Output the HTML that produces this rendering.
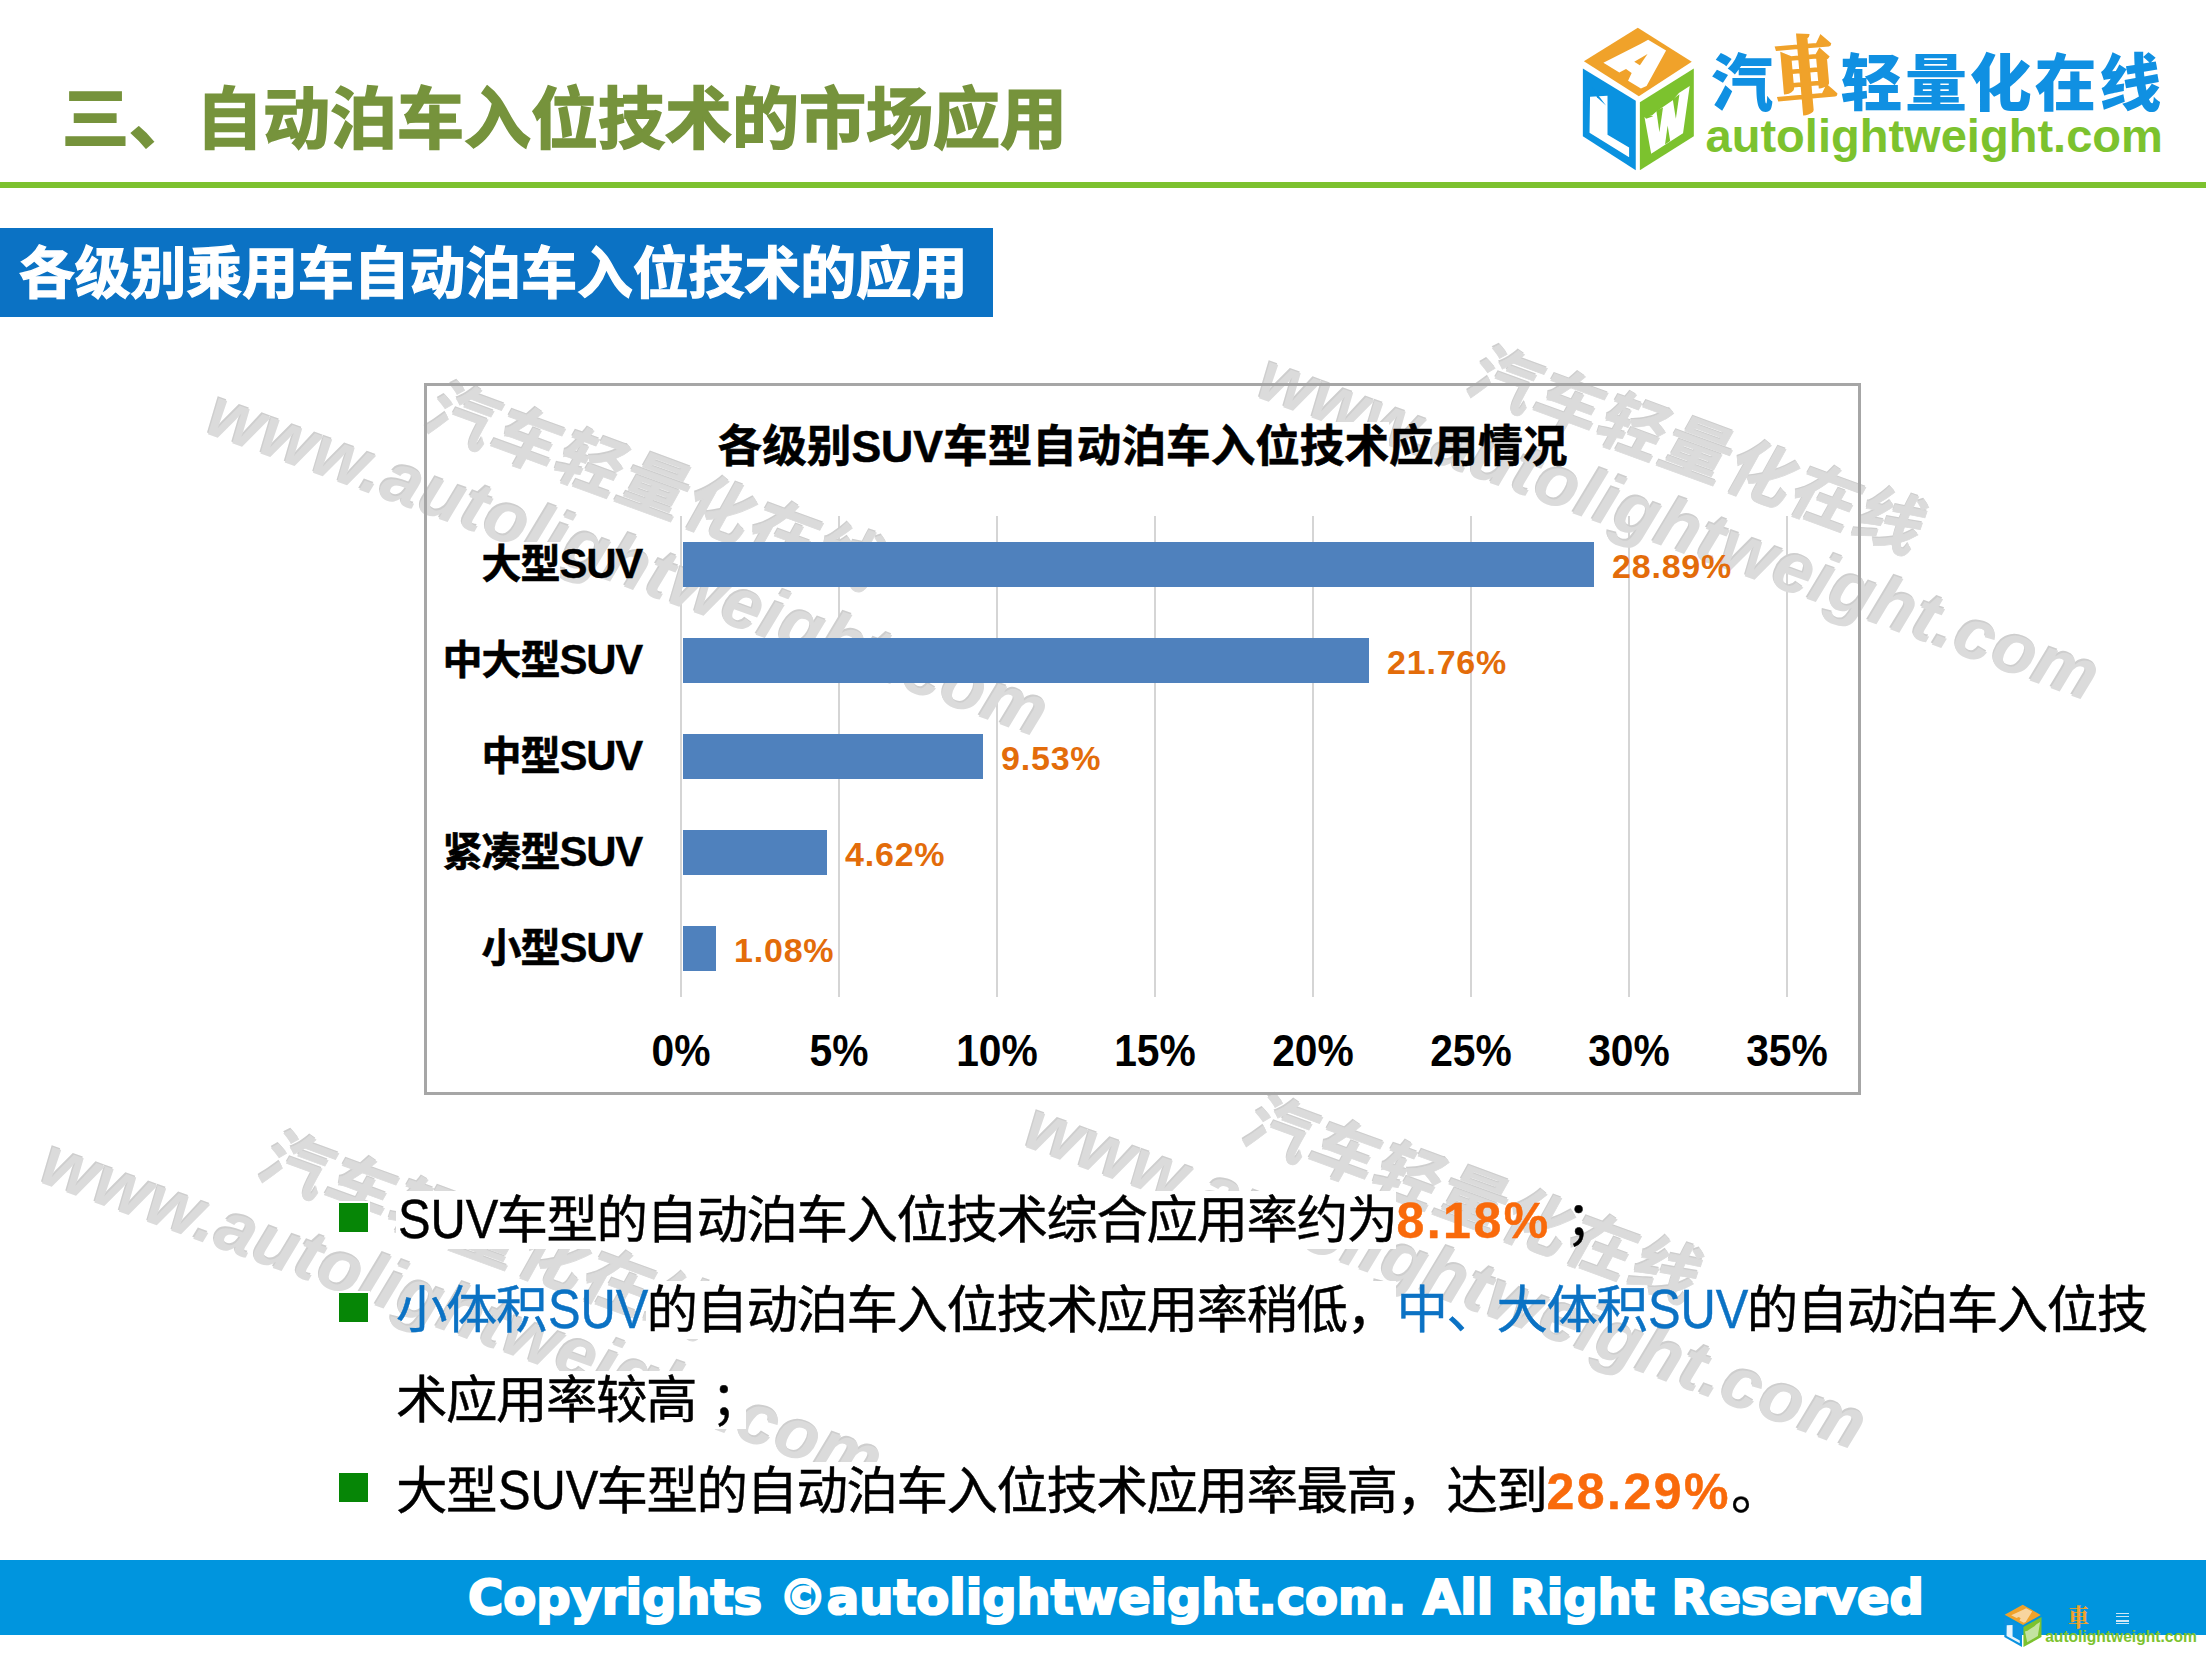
<!DOCTYPE html>
<html lang="zh-CN">
<head>
<meta charset="utf-8">
<title>三、自动泊车入位技术的市场应用</title>
<style>
html,body{margin:0;padding:0;background:#fff;}
body{width:2206px;height:1654px;position:relative;overflow:hidden;font-family:"Liberation Sans","Noto Sans CJK SC",sans-serif;}
.abs{position:absolute;white-space:nowrap;}
/* watermark */
.wm{position:absolute;width:0;height:0;transform:rotate(20.1deg);transform-origin:0 0;}
.wm span{position:absolute;white-space:nowrap;color:#dbdbdb;font-weight:bold;font-style:italic;text-shadow:-1.5px -1.5px 0 #cecece;line-height:1;}
.wm .en{left:0;top:0;font-size:71.4px;font-family:"Liberation Sans",sans-serif;letter-spacing:0.5px;}
.wm .cn{left:193px;top:-74.5px;font-size:66px;font-family:"Liberation Sans","Noto Sans CJK SC",sans-serif;font-weight:bold;letter-spacing:2.4px;font-style:normal;transform:skewX(-9deg);transform-origin:0 100%;-webkit-text-stroke:0.8px #dbdbdb;}
/* logo */
#lgcn{left:1711px;top:40px;font-size:62px;line-height:90px;font-weight:900;color:#1090e2;letter-spacing:2.7px;font-family:"Liberation Sans","Noto Sans CJK SC",sans-serif;}
#lgcn .che{color:#f0a22a;font-family:"Liberation Serif","Noto Serif CJK SC",serif;display:inline-block;transform:translateY(-4px) rotate(-5deg) scale(1.0,1.36);transform-origin:50% 62%;-webkit-text-stroke:1.6px #f0a22a;}
#lgen{left:1705.5px;top:106px;font-size:47.05px;line-height:60px;font-weight:bold;color:#7cc22e;font-family:"Liberation Sans",sans-serif;}
#smche{left:2068px;top:1603px;font-size:21px;line-height:30px;font-weight:900;color:#f0a22a;font-family:"Liberation Serif","Noto Serif CJK SC",serif;transform:scale(1,1.15);}
#smdash{left:2116px;top:1613px;width:12.5px;height:11px;background:linear-gradient(#cfe8f7 0 1.5px,transparent 1.5px 3px,#cfe8f7 3px 4.2px,transparent 4.2px 7.5px,#cfe8f7 7.5px 8.7px,transparent 8.7px 9.8px,#cfe8f7 9.8px 11px);}
#smen{left:2045.2px;top:1626.5px;font-size:15.6px;line-height:20px;font-weight:bold;color:#7cc22e;font-family:"Liberation Sans",sans-serif;}
/* header */
#title{-webkit-text-stroke:1.7px #76933c;left:62px;top:72px;font-size:67px;line-height:96px;font-weight:bold;color:#76933c;font-family:"Liberation Sans","Noto Sans CJK SC",sans-serif;}
#gline{position:absolute;left:0;top:182px;width:2206px;height:6px;background:#7cc12f;}
#banner{position:absolute;left:0;top:228px;width:993px;height:89px;background:#0b72c4;}
#banner div{-webkit-text-stroke:1.3px #fff;position:absolute;left:19px;top:2px;font-size:55.8px;line-height:88px;font-weight:bold;color:#fff;white-space:nowrap;}
/* chart */
#chart{position:absolute;left:424px;top:383px;width:1431px;height:706px;border:3px solid #a6a6a6;box-sizing:content-box;}
.grid{position:absolute;top:516px;width:2.2px;height:481px;background:#d5d5d5;}
.bar{position:absolute;left:683px;height:45px;background:#4f81bd;}
.cat{position:absolute;right:1564px;letter-spacing:-1px;white-space:nowrap;font-weight:bold;font-size:40px;line-height:50px;color:#000;}
.cat b{background:#fff;font-weight:bold;}
.cat,#ctitle{-webkit-text-stroke:0.6px #000;}
.cat u{text-decoration:none;font-size:42px;letter-spacing:-1.3px;-webkit-text-stroke:0.3px #000;}
.val{position:absolute;white-space:nowrap;font-weight:bold;font-size:34px;line-height:40px;color:#e36c0a;letter-spacing:0.8px;}
.ax{position:absolute;width:200px;text-align:center;white-space:nowrap;font-weight:bold;font-size:44.8px;line-height:46px;color:#000;transform:scaleX(0.91);}
.ax span{background:#fff;}
#ctitle{position:absolute;left:425px;width:1435px;top:420px;text-align:center;font-weight:bold;font-size:44.6px;line-height:54px;color:#000;white-space:nowrap;}
#ctitle span{background:#fff;}
/* bullets */
.sq{position:absolute;left:339px;width:29px;height:29px;background:#068606;box-shadow:0 0 0 2px #fff;}
.ln{position:absolute;-webkit-text-stroke:0.45px;left:396px;white-space:nowrap;font-size:51.5px;letter-spacing:-1.5px;line-height:60px;color:#000;}
.ln i{font-style:normal;letter-spacing:0;display:inline-block;font-size:55px;line-height:1;width:98.4px;margin-left:2px;transform:scaleX(0.888);transform-origin:0 50%;}
.ln .o{letter-spacing:2.5px;font-size:50px;}
.ln .k{background:#fff;}
.ln em{font-style:normal;position:relative;left:15px;}
.ln .o{color:#f96a0b;font-weight:bold;}
.ln .b{color:#0b72c4;}
/* footer */
#foot{position:absolute;left:0;top:1560px;width:2206px;height:75px;background:#0095de;}
#foot div{position:absolute;left:468px;top:0;color:#fff;font-weight:bold;font-size:48px;line-height:75px;white-space:nowrap;font-family:"DejaVu Sans","Liberation Sans",sans-serif;-webkit-text-stroke:2.2px #fff;}
</style>
</head>
<body>

<!-- gridlines -->
<div class="grid" style="left:680.2px"></div>
<div class="grid" style="left:838.1px"></div>
<div class="grid" style="left:996.1px"></div>
<div class="grid" style="left:1154.0px"></div>
<div class="grid" style="left:1311.9px"></div>
<div class="grid" style="left:1469.8px"></div>
<div class="grid" style="left:1627.7px"></div>
<div class="grid" style="left:1785.6px"></div>

<!-- watermarks -->
<div class="wm" style="left:1274px;top:339.5px;"><span class="en">www.autolightweight.com</span><span class="cn">汽车轻量化在线</span></div>
<div class="wm" style="left:223.4px;top:375.9px;"><span class="en">www.autolightweight.com</span><span class="cn" style="left:201px;top:-77.4px">汽车轻量化在线</span></div>
<div class="wm" style="left:56.9px;top:1124.8px;"><span class="en">www.autolightweight.com</span><span class="cn" style="left:201px;top:-77.4px">汽车轻量化在线</span></div>
<div class="wm" style="left:1041.2px;top:1089.1px;"><span class="en">www.autolightweight.com</span><span class="cn" style="left:201px;top:-77.4px">汽车轻量化在线</span></div>


<!-- logo -->
<svg class="abs" style="left:1570px;top:15px" width="160" height="170" viewBox="0 0 1557 1654">
  <polygon points="660,125 135,450 670,790 1185,455" fill="#f0a22a"/>
  <polygon points="125,520 640,835 640,1510 125,1180" fill="#0a92e0"/>
  <polygon points="680,850 1205,520 1205,1180 680,1510" fill="#7cc22e"/>
  <!-- A -->
  <polygon points="325,465 690,280 760,240 935,345 745,690 690,715 565,640 600,565 545,525 480,560" fill="#fff"/>
  <polygon points="625,455 755,380 680,490" fill="#f0a22a"/>
  <!-- L -->
  <polygon points="195,795 365,785 365,1165 575,1290 575,1385 190,1145" fill="#fff"/>
  <polygon points="215,700 350,880 262,800" fill="#0a92e0"/>
  <!-- W -->
  <polygon points="725,995 800,975 840,940 1000,830 1060,760 1165,690 1100,1150 790,1350" fill="#fff"/>
  <polygon points="840,930 905,900 870,1140" fill="#7cc22e"/>
  <polygon points="1000,820 1065,770 1030,1010" fill="#7cc22e"/>
  <polygon points="925,1260 975,1225 950,1075" fill="#7cc22e"/>
  <polygon points="700,960 810,985 740,1010" fill="#7cc22e"/>
</svg>
<div id="lgcn" class="abs"><span>汽</span><span class="che">車</span><span>轻量化在线</span></div>
<div id="lgen" class="abs">autolightweight.com</div>

<!-- header -->
<div id="title" class="abs">三、自动泊车入位技术的市场应用</div>
<div id="gline"></div>
<div id="banner"><div>各级别乘用车自动泊车入位技术的应用</div></div>

<!-- chart -->
<div id="chart"></div>
<div id="ctitle"><span>各级别SUV车型自动泊车入位技术</span>应用情况</div>


<div class="bar" style="top:542px;width:911px"></div>
<div class="bar" style="top:638px;width:686px"></div>
<div class="bar" style="top:734px;width:300px"></div>
<div class="bar" style="top:830px;width:144px"></div>
<div class="bar" style="top:926px;width:33px"></div>

<div class="cat" style="top:539px"><b>大型</b><u>SUV</u></div>
<div class="cat" style="top:635px"><b>中大型</b><u>SUV</u></div>
<div class="cat" style="top:731px"><b>中型</b><u>SUV</u></div>
<div class="cat" style="top:827px"><b>紧凑型</b><u>SUV</u></div>
<div class="cat" style="top:923px"><b>小型</b><u>SUV</u></div>

<div class="val" style="left:1612px;top:546px">28.89%</div>
<div class="val" style="left:1387px;top:642px">21.76%</div>
<div class="val" style="left:1001px;top:738px">9.53%</div>
<div class="val" style="left:845px;top:834px">4.62%</div>
<div class="val" style="left:734px;top:930px">1.08%</div>

<div class="ax" style="left:581.4px;top:1027px"><span>0%</span></div>
<div class="ax" style="left:739.2px;top:1027px"><span>5%</span></div>
<div class="ax" style="left:897.2px;top:1027px"><span>10%</span></div>
<div class="ax" style="left:1055.1px;top:1027px"><span>15%</span></div>
<div class="ax" style="left:1213.0px;top:1027px"><span>20%</span></div>
<div class="ax" style="left:1370.8px;top:1027px"><span>25%</span></div>
<div class="ax" style="left:1528.8px;top:1027px"><span>30%</span></div>
<div class="ax" style="left:1686.7px;top:1027px"><span>35%</span></div>

<!-- bullets -->
<div class="sq" style="top:1203px"></div>
<div class="sq" style="top:1293px"></div>
<div class="sq" style="top:1472.5px"></div>

<div class="ln" style="top:1190px"><span class="k"><i>SUV</i>车型的自动泊车入位技术综合应用率约为</span><span class="o">8.18%</span><span><em>；</em></span></div>
<div class="ln" style="top:1280px"><span class="b">小体积<i>SUV</i></span><span class="k">的自动泊车入位技术应用率稍低，</span><span class="b">中、大体积<i>SUV</i></span><span class="k">的自动泊车入位技</span></div>
<div class="ln" style="top:1370px"><span class="k">术应用率较高<em>；</em></span></div>
<div class="ln" style="top:1461px"><span class="k">大型<i>SUV</i>车型的自动泊车入位技术应用率最高，达到</span><span class="o">28.29%</span><span class="k">。</span></div>

<!-- footer -->
<div id="foot"><div>Copyrights ©autolightweight.com. All Right Reserved</div></div>

<!-- small footer logo -->
<svg class="abs" style="left:2000.2px;top:1600.9px" width="53.6" height="50.5" viewBox="0 0 1557 1654" preserveAspectRatio="none">
  <polygon points="660,125 135,450 670,790 1185,455" fill="#f0a22a"/>
  <polygon points="125,520 640,835 640,1510 125,1180" fill="#0a92e0"/>
  <polygon points="680,850 1205,520 1205,1180 680,1510" fill="#7cc22e"/>
  <polygon points="325,465 690,280 760,240 935,345 745,690 690,715 565,640 600,565 545,525 480,560" fill="#fff" opacity="0.55"/>
  <polygon points="195,795 365,785 365,1165 575,1290 575,1385 190,1145" fill="#fff" opacity="0.9"/>
  <polygon points="725,995 800,975 840,940 1000,830 1060,760 1165,690 1100,1150 790,1350" fill="#fff" opacity="0.55"/>
</svg>
<div id="smche" class="abs">車</div>
<div id="smdash" class="abs"></div>
<div id="smen" class="abs">autolightweight.com</div>

</body>
</html>
